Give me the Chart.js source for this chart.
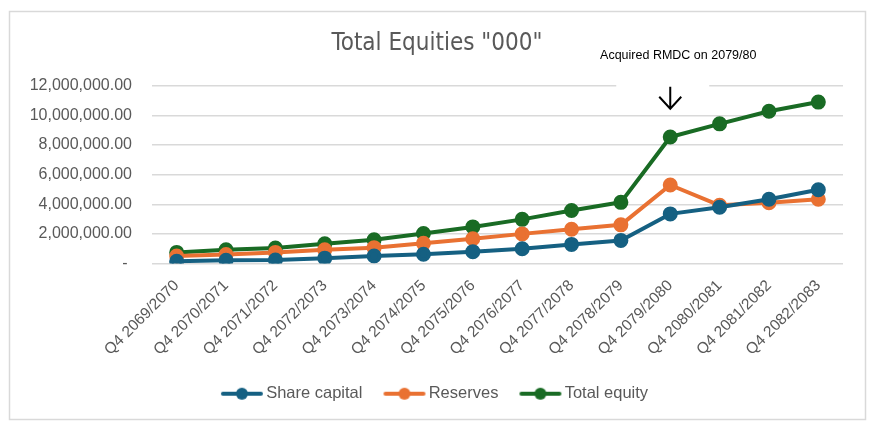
<!DOCTYPE html>
<html>
<head>
<meta charset="utf-8">
<script src="https://cdn.jsdelivr.net/npm/chart.js@4.4.1/dist/chart.umd.min.js"></script>
<style>
html,body{margin:0;padding:0;background:#fff;}
#wrap{position:absolute;left:0;top:0;width:874px;height:429px;}
</style>
</head>
<body>
<div id="wrap"><canvas id="c" width="874" height="429"></canvas></div>
<script>
const categories = ["Q4 2069/2070","Q4 2070/2071","Q4 2071/2072","Q4 2072/2073","Q4 2073/2074","Q4 2074/2075","Q4 2075/2076","Q4 2076/2077","Q4 2077/2078","Q4 2078/2079","Q4 2079/2080","Q4 2080/2081","Q4 2081/2082","Q4 2082/2083"];
const shareCapital = [150000, 220000, 240000, 360000, 510000, 620000, 800000, 1000000, 1290000, 1560000, 3350000, 3800000, 4340000, 4980000];
const reserves = [510000, 600000, 750000, 930000, 1070000, 1360000, 1670000, 2000000, 2310000, 2610000, 5300000, 3930000, 4110000, 4340000];
const totalEquity = [750000, 930000, 1040000, 1330000, 1600000, 2020000, 2470000, 2980000, 3580000, 4130000, 8540000, 9430000, 10280000, 10900000];
const yTicks = [0, 2000000, 4000000, 6000000, 8000000, 10000000, 12000000];
const titleText = 'Total Equities "000"';
const noteText = 'Acquired RMDC on 2079/80';
const noteIndex = 10;

const COLORS = {share:'#156082', reserves:'#E97132', total:'#196B24'};
const FONT = "'Liberation Sans', Arial, sans-serif";

function legendImage(color){
  const cv = document.createElement('canvas');
  cv.width = 44; cv.height = 14;
  const g = cv.getContext('2d');
  g.strokeStyle = color; g.lineWidth = 4; g.lineCap = 'round';
  g.beginPath(); g.moveTo(3,7); g.lineTo(41,7); g.stroke();
  g.fillStyle = color; g.beginPath(); g.arc(22,7,6,0,Math.PI*2); g.fill();
  return cv;
}

const framePlugin = {
  id:'frame',
  beforeDraw(chart){
    const ctx = chart.ctx;
    ctx.save();
    ctx.fillStyle = '#fff';
    ctx.fillRect(0,0,chart.width,chart.height);
    ctx.strokeStyle = '#d9d9d9';
    ctx.lineWidth = 1.5;
    ctx.strokeRect(9.5,11.5,856,408);
    ctx.restore();
  }
};

const notePlugin = {
  id:'note',
  afterDraw(chart){
    const ctx = chart.ctx;
    const xs = chart.scales.x, ys = chart.scales.y;
    const xc = xs.getPixelForValue(noteIndex);
    const yTop = ys.getPixelForValue(12000000);
    ctx.save();
    ctx.fillStyle = '#fff';
    ctx.fillRect(xc-54, yTop-12, 93, 36);
    ctx.fillStyle = '#000';
    ctx.font = "12.5px " + FONT;
    ctx.textAlign = 'center';
    ctx.textBaseline = 'middle';
    ctx.fillText(noteText, xc+8, yTop-30);
    ctx.strokeStyle = '#000';
    ctx.lineWidth = 2;
    ctx.lineCap = 'butt';
    ctx.beginPath();
    ctx.moveTo(xc, yTop+1); ctx.lineTo(xc, yTop+23);
    ctx.moveTo(xc-11, yTop+11); ctx.lineTo(xc, yTop+23); ctx.lineTo(xc+11, yTop+11);
    ctx.stroke();
    ctx.restore();
  }
};

function ds(label, data, color){
  return {label, data, borderColor:color, backgroundColor:color, pointBackgroundColor:color,
    pointBorderColor:color, borderWidth:4, pointRadius:5.5, pointHoverRadius:5.5, tension:0,
    borderJoinStyle:'round', borderCapStyle:'round'};
}

new Chart(document.getElementById('c'), {
  type:'line',
  data:{labels:categories, datasets:[
    ds('Share capital', shareCapital, COLORS.share),
    ds('Reserves', reserves, COLORS.reserves),
    ds('Total equity', totalEquity, COLORS.total)
  ]},
  options:{
    responsive:false, animation:false, devicePixelRatio:1,
    layout:{padding:{left:31,right:31,top:0,bottom:17}},
    plugins:{
      tooltip:{enabled:false},
      title:{display:true, text:titleText, color:'#595959',
        font:{family:"'Liberation Sans Narrow','DejaVu Sans Condensed'," + FONT, size:24, weight:'normal'},
        padding:{top:29, bottom:28}},
      legend:{position:'bottom',
        labels:{usePointStyle:true, pointStyleWidth:32, color:'#595959', padding:26,
          font:{family:FONT, size:16.5},
          generateLabels(chart){
            return chart.data.datasets.map((d,i)=>({text:d.label, pointStyle:legendImage(d.borderColor),
              fillStyle:d.borderColor, strokeStyle:d.borderColor, lineWidth:0, datasetIndex:i, hidden:false, fontColor:'#595959'}));
          }}}
    },
    scales:{
      x:{offset:true, grid:{display:false}, border:{display:false},
        ticks:{color:'#595959', font:{family:FONT, size:15.5}, maxRotation:45, minRotation:45, autoSkip:false, padding:5},
        afterFit(s){ s.height = 96; }},
      y:{min:0, max:12000000,
        afterBuildTicks(s){ s.ticks = yTicks.map(v=>({value:v})); },
        grid:{color:'#d9d9d9', lineWidth:1.5, drawTicks:false}, border:{display:false},
        ticks:{color:'#595959', font:{family:FONT, size:16}, padding:20,
          callback(v){ return v===0 ? '- ' : Number(v).toLocaleString('en-US',{minimumFractionDigits:2, maximumFractionDigits:2}); }},
        afterFit(s){ s.width = 121; }}
    }
  },
  plugins:[framePlugin, notePlugin]
});
</script>
</body>
</html>
